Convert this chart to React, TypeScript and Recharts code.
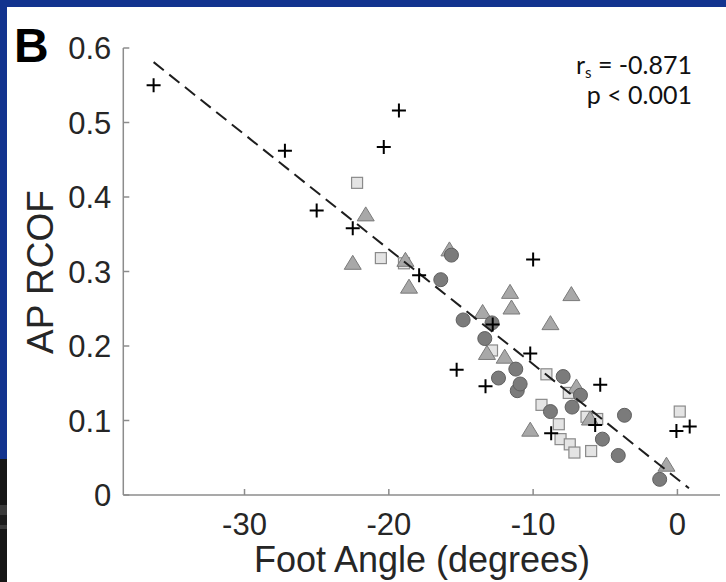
import React from "react";
import { ScatterChart, Scatter, XAxis, YAxis } from "recharts";

// tick positions
const xTicks = [-30, -20, -10, 0];
const yTicks = [0, 0.1, 0.2, 0.3, 0.4, 0.5, 0.6];

// group 1: black crosses
const crossPts = [
  { x: -36.3, y: 0.55 },
  { x: -27.2, y: 0.462 },
  { x: -25.0, y: 0.382 },
  { x: -22.5, y: 0.358 },
  { x: -20.35, y: 0.467 },
  { x: -19.3, y: 0.516 },
  { x: -17.9, y: 0.295 },
  { x: -15.3, y: 0.168 },
  { x: -13.3, y: 0.146 },
  { x: -12.8, y: 0.229 },
  { x: -10.2, y: 0.19 },
  { x: -10.0, y: 0.316 },
  { x: -8.75, y: 0.083 },
  { x: -5.7, y: 0.094 },
  { x: -5.35, y: 0.148 },
  { x: -0.07, y: 0.086 },
  { x: 0.85, y: 0.092 },
];

// group 2: dark grey circles
const circlePts = [
  { x: -16.4, y: 0.289 },
  { x: -15.66, y: 0.322 },
  { x: -14.85, y: 0.235 },
  { x: -13.35, y: 0.21 },
  { x: -12.85, y: 0.231 },
  { x: -12.4, y: 0.157 },
  { x: -11.2, y: 0.169 },
  { x: -11.1, y: 0.14 },
  { x: -10.9, y: 0.149 },
  { x: -8.8, y: 0.112 },
  { x: -7.92, y: 0.159 },
  { x: -7.3, y: 0.118 },
  { x: -6.72, y: 0.134 },
  { x: -5.2, y: 0.075 },
  { x: -4.1, y: 0.053 },
  { x: -3.67, y: 0.107 },
  { x: -1.23, y: 0.021 },
];

// group 3: grey triangles
const trianglePts = [
  { x: -22.5, y: 0.311 },
  { x: -21.6, y: 0.376 },
  { x: -18.85, y: 0.315 },
  { x: -18.6, y: 0.279 },
  { x: -15.8, y: 0.329 },
  { x: -13.5, y: 0.245 },
  { x: -13.2, y: 0.19 },
  { x: -11.97, y: 0.185 },
  { x: -11.6, y: 0.272 },
  { x: -11.5, y: 0.251 },
  { x: -10.2, y: 0.087 },
  { x: -8.8, y: 0.23 },
  { x: -7.35, y: 0.269 },
  { x: -7.0, y: 0.145 },
  { x: -6.06, y: 0.102 },
  { x: -0.76, y: 0.04 },
];

// group 4: light grey squares
const squarePts = [
  { x: -22.2, y: 0.419 },
  { x: -20.55, y: 0.318 },
  { x: -18.95, y: 0.311 },
  { x: -12.85, y: 0.194 },
  { x: -9.42, y: 0.121 },
  { x: -9.08, y: 0.162 },
  { x: -8.22, y: 0.095 },
  { x: -8.1, y: 0.075 },
  { x: -7.53, y: 0.137 },
  { x: -7.46, y: 0.068 },
  { x: -7.14, y: 0.057 },
  { x: -6.3, y: 0.105 },
  { x: -5.98, y: 0.059 },
  { x: -5.56, y: 0.102 },
  { x: 0.16, y: 0.112 },
];

// regression line end points
const fitLine = [
  { x: -36.3, y: 0.581 },
  { x: 0.8, y: 0.009 },
];

const AXIS = "#8c8c8c";
const INK = "#262626";
const SANS = "'Liberation Sans', Arial, sans-serif";
const NOTE = "Lato, 'Open Sans', sans-serif";

function XTick({ x, y, payload }: any) {
  return (
    <g>
      <line x1={x} x2={x} y1={y} y2={y - 6} stroke={AXIS} strokeWidth={1.5} />
      <text x={x} y={y + 40} textAnchor="middle" fontSize={31} fill={INK} fontFamily={SANS}>
        {payload.value}
      </text>
    </g>
  );
}

function YTick({ x, y, payload }: any) {
  const v = payload.value;
  return (
    <g>
      <line x1={x} x2={x + 6} y1={y} y2={y} stroke={AXIS} strokeWidth={1.5} />
      <text x={x - 12} y={y + 11} textAnchor="end" fontSize={31} fill={INK} fontFamily={SANS}>
        {v === 0 ? "0" : v.toFixed(1)}
      </text>
    </g>
  );
}

const Cross = ({ cx, cy }: any) => (
  <path d={`M${cx - 7},${cy}H${cx + 7}M${cx},${cy - 7}V${cy + 7}`} stroke="#000" strokeWidth={2} fill="none" />
);
const Dot = ({ cx, cy }: any) => <circle cx={cx} cy={cy} r={7} fill="#7b7b7b" stroke="#5f5f5f" strokeWidth={1} />;
const Tri = ({ cx, cy }: any) => (
  <polygon
    points={`${cx},${cy - 8} ${cx - 8.5},${cy + 6} ${cx + 8.5},${cy + 6}`}
    fill="#a8a8a8"
    stroke="#7a7a7a"
    strokeWidth={1}
  />
);
const Sq = ({ cx, cy }: any) => (
  <rect x={cx - 5.5} y={cy - 5.5} width={11} height={11} fill="#e4e4e4" stroke="#8a8a8a" strokeWidth={1.2} />
);
const Nothing = () => <g />;

export default function App() {
  return (
    <div style={{ position: "absolute", left: 0, top: 0, width: 726, height: 582, background: "#13348f", overflow: "hidden" }}>
      <div style={{ position: "absolute", left: 7, top: 7, width: 719, height: 575, background: "#fff" }} />
      <div style={{ position: "absolute", left: 0, top: 459, width: 7, height: 123, background: "#161616" }} />
      <div style={{ position: "absolute", left: 0, top: 505, width: 7, height: 24, background: "#3a3a3a" }} />
      <div style={{ position: "absolute", left: 0, top: 515, width: 7, height: 10, background: "#1c1c1c" }} />
      <div style={{ position: "absolute", left: 0, top: 0 }}>
        <ScatterChart width={726} height={582} margin={{ top: 48, right: 6, bottom: 0, left: 0 }}>
          <XAxis
            type="number"
            dataKey="x"
            domain={[-38.4, 2.95]}
            ticks={xTicks}
            height={87}
            tickSize={0}
            tickMargin={0}
            tickLine={false}
            axisLine={{ stroke: AXIS, strokeWidth: 1.5 }}
            tick={<XTick />}
          />
          <YAxis
            type="number"
            dataKey="y"
            domain={[0, 0.6]}
            ticks={yTicks}
            width={123.3}
            tickSize={0}
            tickMargin={0}
            tickLine={false}
            axisLine={{ stroke: AXIS, strokeWidth: 1.5 }}
            tick={<YTick />}
          />
          <Scatter data={squarePts} shape={<Sq />} isAnimationActive={false} />
          <Scatter data={trianglePts} shape={<Tri />} isAnimationActive={false} />
          <Scatter data={circlePts} shape={<Dot />} isAnimationActive={false} />
          <Scatter
            data={fitLine}
            shape={<Nothing />}
            line={{ stroke: "#1e1e1e", strokeWidth: 2, strokeDasharray: "13 7" }}
            isAnimationActive={false}
          />
          <Scatter data={crossPts} shape={<Cross />} isAnimationActive={false} />
        </ScatterChart>
      </div>
      <svg width={726} height={582} style={{ position: "absolute", left: 0, top: 0, pointerEvents: "none" }}>
        <text x={14} y={62} fontSize={48} fontWeight="bold" fill="#000" fontFamily={SANS}>
          B
        </text>
        <text
          x={40}
          y={272}
          transform="rotate(-90 40 272)"
          textAnchor="middle"
          dominantBaseline="central"
          fontSize={37}
          fill={INK}
          fontFamily={SANS}
        >
          AP RCOF
        </text>
        <text x={422} y={572} textAnchor="middle" fontSize={36} fill={INK} fontFamily={SANS}>
          Foot Angle (degrees)
        </text>
        <text x={692} y={74} textAnchor="end" fontSize={25} fill="#111" fontFamily={NOTE}>
          r<tspan fontSize={15} dy={4}>s</tspan>
          <tspan dy={-4}> = -0.871</tspan>
        </text>
        <text x={692} y={104} textAnchor="end" fontSize={25} fill="#111" fontFamily={NOTE}>
          p &lt; 0.001
        </text>
      </svg>
    </div>
  );
}
